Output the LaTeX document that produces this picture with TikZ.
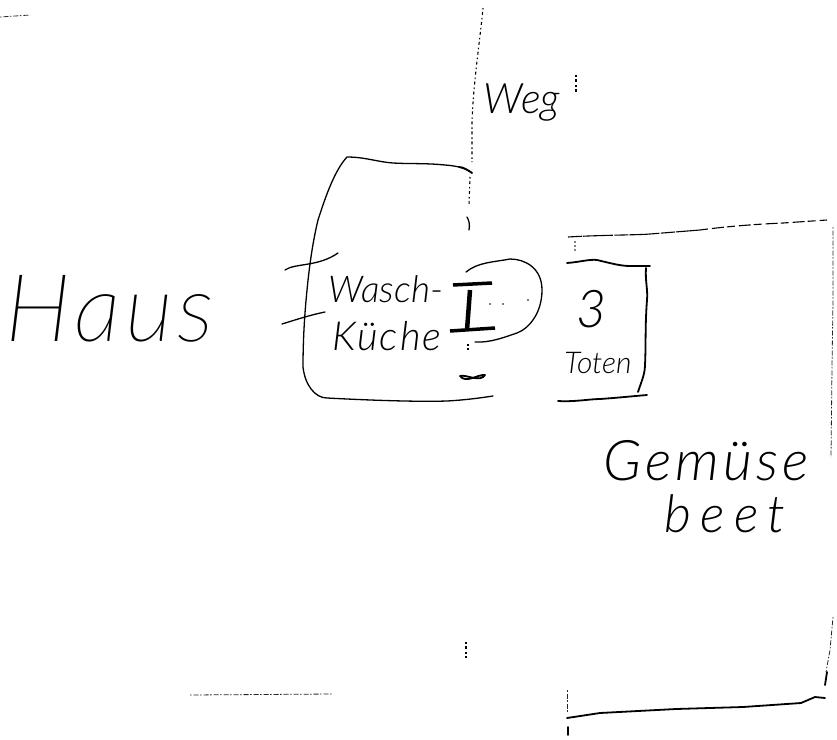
\documentclass[tikz,border=0pt]{standalone}
\usepackage{fontspec}
\newfontfamily\handthin{Lato}[UprightFont=* Thin,ItalicFont=* Thin Italic]
\newfontfamily\handfont{Lato}[UprightFont=* Light,ItalicFont=* Light Italic]
\newcommand{\handsize}[2]{\handfont\itshape\addfontfeature{LetterSpace=#2}\fontsize{#1}{#1}\selectfont}
\newcommand{\bigsize}[2]{\handthin\itshape\addfontfeature{LetterSpace=#2}\fontsize{#1}{#1}\selectfont}
\tikzset{
  pen/.style={line width=1.3pt,line cap=round,line join=round,black},
  heavypen/.style={line width=1.8pt,line cap=round,line join=round,black},
  doorbar/.style={line width=3.5pt,line cap=butt,black},
  dotline/.style={line width=1.1pt,dash pattern=on 1.5pt off 2.5pt on 3pt off 3pt,black},
  faintline/.style={line width=0.8pt,dash pattern=on 1.5pt off 2pt on 5pt off 1.5pt,black!85},
  hand/.style={anchor=base,inner sep=0pt,outer sep=0pt,black},
}
\begin{document}
\begin{tikzpicture}[x=1pt,y=-1pt]
\useasboundingbox (0,0) rectangle (837,739);
% texts
\node[hand] (haus) at (110,341) {\bigsize{94}{5}Haus};
\node[hand] (wasch) at (386,302) {\handsize{37}{0}Wasch-};
\node[hand] (kueche) at (387,350) {\handsize{40}{5}Küche};
\node[hand] (weg) at (522,113) {\handsize{42}{0}Weg};
\node[hand] (drei) at (592,327) {\handsize{52}{0}3};
\node[hand] (toten) at (598,373) {\handsize{30}{0}Toten};
\node[hand] (gemuese) at (706,480) {\handsize{56}{7}Gemüse};
\node[hand] (beet) at (725,532) {\handsize{52}{18}beet};
% Waschkueche outline
\draw[pen] (472,173) .. controls (465,168) and (458,166) .. (445,165)
  .. controls (425,163) and (410,164) .. (393,163)
  .. controls (378,162) and (365,157) .. (347,157)
  .. controls (335,170) and (326,195) .. (318,220)
  .. controls (312,245) and (309,270) .. (307,290)
  .. controls (304,320) and (303,345) .. (303,367)
  .. controls (305,385) and (315,398) .. (327,398)
  .. controls (365,400) and (415,402) .. (447,401)
  .. controls (465,400) and (480,398) .. (493,396);
\draw[pen] (285,270) .. controls (295,263) and (318,267) .. (338,253);
\draw[pen] (282,324) .. controls (295,320) and (310,315) .. (325,312);
% door
\draw[doorbar] (453,285) -- (492,283);
\draw[line width=4.5pt,black] (470,290) -- (467,330);
\draw[doorbar] (450,331) -- (495,328);
\draw[pen] (466,272) .. controls (478,262) and (495,262) .. (510,259)
  .. controls (525,259) and (542,268) .. (542,290)
  .. controls (542,312) and (530,328) .. (517,333)
  .. controls (505,337) and (490,343) .. (475,342);
\fill (490,304) circle (0.9pt) (503,304) circle (0.9pt) (528,300) circle (0.9pt);
\draw[heavypen] (460,376) .. controls (466,374) and (480,383) .. (485,375)
  .. controls (478,374) and (466,384) .. (460,376);
% path (Weg)
\draw[dotline] (483,8) .. controls (480,40) and (473,85) .. (472,123) -- (472,162);
\draw[heavypen] (459,167) .. controls (463,167) and (468,170) .. (472,173);
\draw[dotline] (470,177) -- (469,205);
\draw[pen] (467,217) .. controls (469,220) and (470,225) .. (469,230);
\draw[dotline] (468,344) -- (468,350);
\draw[dotline] (466,642) -- (466,658);
\draw[dotline] (576,75) -- (576,92);
% Gemuesebeet edges
\draw[line width=1.1pt,dash pattern=on 14pt off 1pt on 30pt off 1.5pt,black] (568,237) .. controls (600,235) and (640,235) .. (650,234) -- (700,230);
\draw[line width=1.1pt,dash pattern=on 8pt off 4pt on 12pt off 3pt,black] (700,230) .. controls (730,226) and (760,224) .. (783,223) -- (827,220);
\draw[faintline] (833,227) -- (833,300) -- (832,367) -- (831,457);
\draw[faintline] (833,617) -- (830,650) -- (826,672);
\draw[heavypen] (827,672) -- (825,685);
\fill (575,242) circle (0.9pt) (575,246) circle (0.9pt) (575,250) circle (0.9pt);
\draw[heavypen] (567,718) -- (600,713) -- (676,709) -- (743,707) -- (801,703) -- (815,697) -- (825,698);
\draw[faintline] (567,690) -- (567,712);
\draw[heavypen] (568,727) -- (568,735);
\draw[faintline] (190,695) -- (332,694);
\draw[faintline] (0,17) -- (30,15);
% Toten box
\draw[heavypen] (567,263) .. controls (580,262) and (590,259) .. (597,260)
  .. controls (610,263) and (620,266) .. (630,266) -- (650,266);
\draw[heavypen] (646,268) .. controls (645,280) and (648,290) .. (647,300)
  .. controls (645,325) and (646,345) .. (645,365)
  .. controls (645,375) and (640,385) .. (638,392);
\draw[heavypen] (558,401) .. controls (575,402) and (590,399) .. (600,399)
  .. controls (615,398) and (635,396) .. (647,395);
\end{tikzpicture}
\end{document}
